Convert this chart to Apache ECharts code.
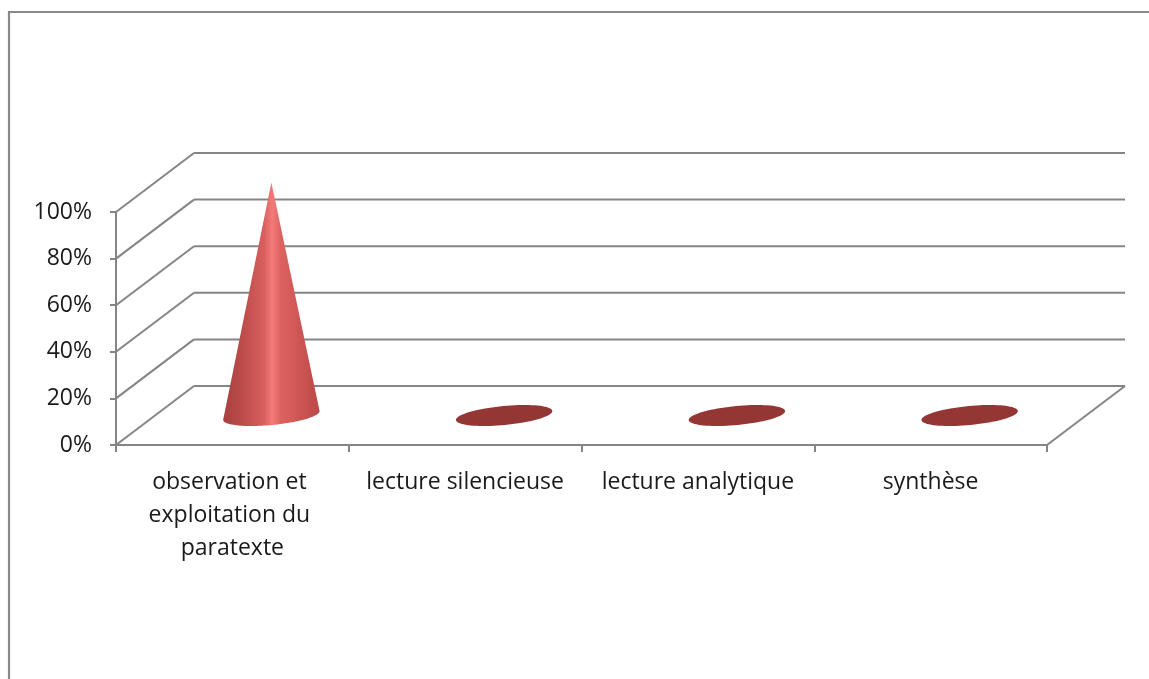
<!DOCTYPE html>
<html>
<head>
<meta charset="utf-8">
<script src="https://cdn.jsdelivr.net/npm/echarts@6/dist/echarts.min.js"></script>
<style>
  html, body { margin: 0; padding: 0; background: #fff; }
  #chart { width: 1149px; height: 679px; }
</style>
</head>
<body>
<div id="chart"></div>
<script>
// Étapes de la lecture et part des élèves (%)
const categories = [
  'observation et exploitation du paratexte',
  'lecture silencieuse',
  'lecture analytique',
  'synthèse'
];
const values = [100, 0, 0, 0];
const yTicks = [0, 20, 40, 60, 80, 100];

// depth offset of the 3D box (back wall relative to the front plane)
const DEPTH = { x: 78, y: -59 };
const GRID_COLOR = '#858585';
const FONT = 'Open Sans';

const chart = echarts.init(document.getElementById('chart'));

// tilted ellipse as a list of points, from angle t0 to t1
function ellipsePts(cx, cy, rx, ry, tilt, t0, t1, n) {
  const pts = [];
  const c = Math.cos(tilt), s = Math.sin(tilt);
  for (let i = 0; i <= n; i++) {
    const t = t0 + (t1 - t0) * i / n;
    const ex = rx * Math.cos(t), ey = ry * Math.sin(t);
    pts.push([cx + ex * c - ey * s, cy + ex * s + ey * c]);
  }
  return pts;
}

// back wall, left side wall and floor edge
function renderWalls(params, api) {
  const cs = params.coordSys;
  const v = api.value(1);
  const y = api.coord([0, v])[1];
  const left = cs.x, right = cs.x + cs.width;
  const style = { stroke: GRID_COLOR, lineWidth: 2, fill: null };
  const children = [
    { type: 'line', shape: { x1: left, y1: y, x2: left + DEPTH.x, y2: y + DEPTH.y }, style },
    { type: 'line', shape: { x1: left + DEPTH.x, y1: y + DEPTH.y, x2: right + DEPTH.x, y2: y + DEPTH.y }, style }
  ];
  if (v === 0) {
    children.push({ type: 'line', shape: { x1: right, y1: y, x2: right + DEPTH.x, y2: y + DEPTH.y }, style });
  }
  return { type: 'group', children };
}

// cones standing in the middle of the box depth
function renderCone(params, api) {
  const idx = api.value(0);
  const v = api.value(1);
  const base = api.coord([idx, 0]);
  const top = api.coord([idx, v]);
  const band = api.size([1, 0])[0];
  const cx = base[0] + DEPTH.x / 2;
  const cy = base[1] + DEPTH.y / 2;
  const rx = band * 0.208;
  const ry = 9.5;
  const tilt = -0.095;
  if (v <= 0) {
    return {
      type: 'polygon',
      shape: { points: ellipsePts(cx, cy, rx, ry, tilt, 0, Math.PI * 2, 80) },
      style: { fill: '#943634' }
    };
  }
  const tipY = top[1] + DEPTH.y / 2;
  const pts = [[cx, tipY]].concat(ellipsePts(cx, cy, rx, ry, tilt, Math.PI * 1.02, -0.02 * Math.PI, 60));
  return {
    type: 'polygon',
    shape: { points: pts },
    style: {
      fill: new echarts.graphic.LinearGradient(0, 0, 1, 0, [
        { offset: 0, color: '#a6403e' },
        { offset: 0.2, color: '#bb4c4a' },
        { offset: 0.42, color: '#d85f5d' },
        { offset: 0.51, color: '#f27b79' },
        { offset: 0.6, color: '#dc6260' },
        { offset: 0.85, color: '#c85250' },
        { offset: 1, color: '#b84846' }
      ])
    }
  };
}

chart.setOption({
  animation: false,
  backgroundColor: '#ffffff',
  grid: { left: 116, right: 102, top: 212, bottom: 234, containLabel: false },
  graphic: [{
    type: 'rect',
    shape: { x: 9, y: 12, width: 1300, height: 800 },
    style: { fill: null, stroke: '#888888', lineWidth: 2.2 },
    z: 0
  }],
  xAxis: {
    type: 'category',
    data: categories,
    axisLine: { show: true, lineStyle: { color: GRID_COLOR, width: 2 } },
    axisTick: { show: true, length: 7, lineStyle: { color: GRID_COLOR, width: 2 } },
    axisLabel: {
      margin: 21,
      fontFamily: FONT,
      fontSize: 23,
      lineHeight: 33,
      color: '#1a1a1a',
      width: 225,
      overflow: 'break',
      interval: 0
    },
    splitLine: { show: false }
  },
  yAxis: {
    type: 'value',
    min: 0,
    max: 100,
    interval: 20,
    axisLine: { show: true, lineStyle: { color: GRID_COLOR, width: 2 } },
    axisTick: { show: true, length: 6, lineStyle: { color: GRID_COLOR, width: 2 } },
    axisLabel: {
      margin: 24,
      fontFamily: FONT,
      fontSize: 23,
      color: '#1a1a1a',
      padding: [6, 0, 0, 0],
      formatter: '{value}%'
    },
    splitLine: { show: false }
  },
  series: [
    {
      type: 'custom',
      renderItem: renderWalls,
      data: yTicks.map(t => [0, t]),
      encode: { x: 0, y: 1 },
      silent: true,
      z: 1
    },
    {
      type: 'custom',
      renderItem: renderCone,
      data: values.map((v, i) => [i, v]),
      encode: { x: 0, y: 1 },
      z: 3
    }
  ]
});
</script>
</body>
</html>
